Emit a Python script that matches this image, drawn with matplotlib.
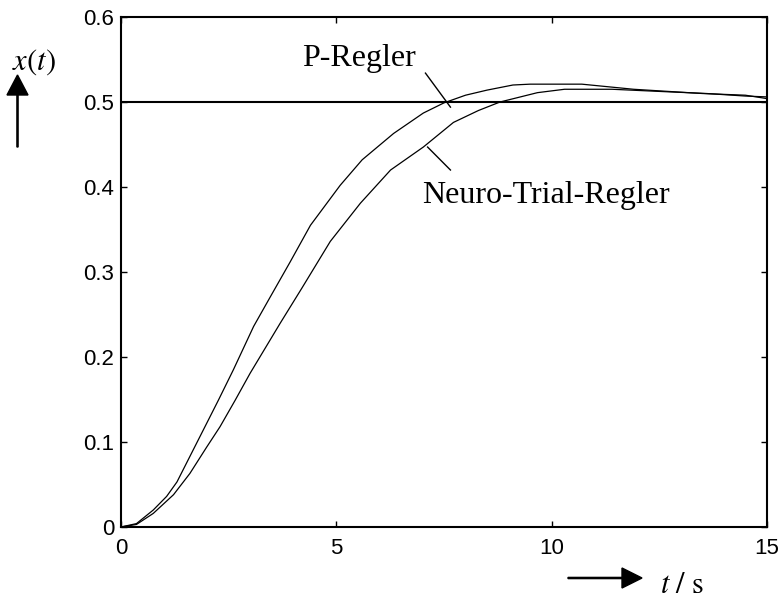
import numpy as np
import matplotlib
matplotlib.use('Agg')
import matplotlib.pyplot as plt

plt.rcParams['mathtext.fontset'] = 'stix'

# step responses
t_p = [0, 0.36, 0.75, 1.06, 1.3, 1.6, 1.91, 2.26, 2.61, 3.08, 3.47, 3.93, 4.4,
       5.09, 5.6, 6.33, 7.02, 7.5, 8.0, 8.5, 9.1, 9.5, 10.7, 11.9, 13.5, 14.5, 15.0]
x_p = [0, 0.004, 0.02, 0.036, 0.053, 0.083, 0.114, 0.149, 0.185, 0.236, 0.271,
       0.312, 0.355, 0.402, 0.432, 0.463, 0.487, 0.499, 0.508, 0.514, 0.52, 0.521,
       0.521, 0.515, 0.51, 0.508, 0.504]

t_n = [0, 0.36, 0.75, 1.22, 1.6, 1.99, 2.3, 2.65, 3.0, 3.7, 4.2, 4.86, 5.56, 6.26,
       7.02, 7.72, 8.3, 8.8, 9.67, 10.3, 11.4, 12.7, 13.6, 14.5, 15.0]
x_n = [0, 0.003, 0.016, 0.038, 0.063, 0.094, 0.118, 0.149, 0.181, 0.24, 0.281,
       0.336, 0.381, 0.42, 0.447, 0.476, 0.49, 0.5, 0.511, 0.515, 0.515, 0.512,
       0.51, 0.507, 0.506]

setpoint = 0.5
xticks = [0, 5, 10, 15]
yticks = [0, 0.1, 0.2, 0.3, 0.4, 0.5, 0.6]
ytick_labels = ['0', '0.1', '0.2', '0.3', '0.4', '0.5', '0.6']

fig = plt.figure(figsize=(7.82, 5.99), dpi=100)
ax = fig.add_axes([0.1547, 0.1202, 0.8261, 0.8514])

ax.plot(t_p, x_p, color='k', lw=0.9)
ax.plot(t_n, x_n, color='k', lw=0.9)
ax.axhline(setpoint, color='k', lw=1.5)

ax.set_xlim(0, 15)
ax.set_ylim(0, 0.6)
ax.set_xticks(xticks)
ax.set_yticks(yticks)
ax.set_yticklabels(ytick_labels)
for s in ax.spines.values():
    s.set_linewidth(1.5)
ax.tick_params(direction='in', length=4, width=1, top=True, right=True,
               labelsize=16)
ax.tick_params(axis='x', pad=8)
ax.tick_params(axis='y', pad=5)
for lbl in ax.get_xticklabels() + ax.get_yticklabels():
    lbl.set_family('Liberation Sans')

# curve labels with pointer lines
ax.text(4.21, 0.542, 'P-Regler', family='Liberation Serif', fontsize=23, va='baseline')
ax.plot([7.07, 7.65], [0.534, 0.494], color='k', lw=1)
ax.text(7.0, 0.381, 'Neuro-Trial-Regler', family='Liberation Serif', fontsize=23, va='baseline')
ax.plot([7.12, 7.65], [0.447, 0.42], color='k', lw=1)

# axis labels with arrows
fig.text(34 / 782, 1 - 62 / 599, r'$x(t)$', fontsize=22, ha='center', va='center')
fig.patches.append(matplotlib.patches.FancyArrow(
    17.5 / 782, 1 - 147 / 599, 0, (147 - 75) / 599, width=0.0015,
    head_width=21 / 782, head_length=20 / 599, length_includes_head=True,
    color='k', transform=fig.transFigure, figure=fig))
fig.patches.append(matplotlib.patches.FancyArrow(
    568 / 782, 1 - 578 / 599, (642 - 568) / 782, 0, width=0.002,
    head_width=20 / 599, head_length=20 / 782, length_includes_head=True,
    color='k', transform=fig.transFigure, figure=fig))
fig.text(660 / 782, 1 - 593 / 599, r'$t\ /\ \mathrm{s}$', fontsize=22, ha='left', va='baseline')

fig.savefig('out.png', dpi=100)
